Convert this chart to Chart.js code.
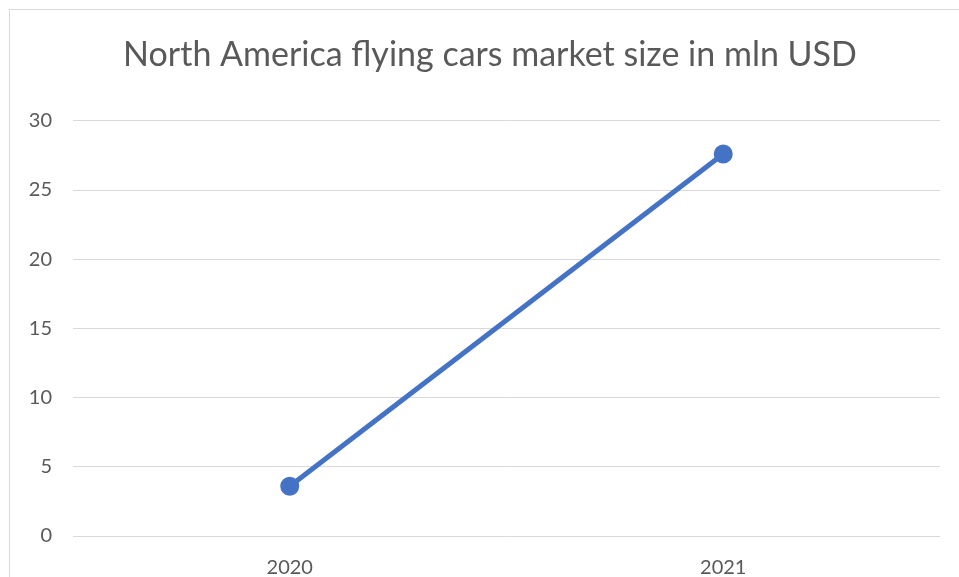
<!DOCTYPE html>
<html>
<head>
<meta charset="utf-8">
<script src="https://cdn.jsdelivr.net/npm/chart.js@4"></script>
<style>
  html, body { margin: 0; background: #fff; overflow: hidden; }
  #frame { position: absolute; left: 9px; top: 9px; width: 960px; height: 580px; border: 1px solid #d9d9d9; }
  #wrap { position: absolute; left: 0; top: 0; width: 960px; height: 567px; }
</style>
</head>
<body>
<div id="frame"><div id="wrap"><canvas id="chart"></canvas></div></div>
<script>
const years = ['2020', '2021'];
const marketSize = [3.6, 27.6];
const chartTitle = 'North America flying cars market size in mln USD';

const fontFamily = 'Lato, "Open Sans", sans-serif';
const ctx = document.getElementById('chart').getContext('2d');
new Chart(ctx, {
    type: 'line',
    data: {
        labels: years,
        datasets: [{
            label: 'Market size',
            data: marketSize,
            borderColor: '#4472C4',
            backgroundColor: '#4472C4',
            borderWidth: 5,
            pointRadius: 7,
            pointHoverRadius: 7,
            tension: 0,
            fill: false
        }]
    },
    options: {
        responsive: true,
        maintainAspectRatio: false,
        animation: false,
        layout: { padding: 0 },
        scales: {
            x: {
                offset: true,
                grid: { display: false, drawTicks: false },
                border: { display: false },
                ticks: { color: '#595959', font: { family: fontFamily, size: 20 }, padding: 20 },
                afterFit: function(scale) { scale.height = 41; }
            },
            y: {
                min: 0,
                max: 30,
                ticks: { stepSize: 5, color: '#595959', font: { family: fontFamily, size: 20 }, padding: 21 },
                grid: { color: '#d9d9d9', lineWidth: 1, drawTicks: false },
                border: { display: false },
                afterFit: function(scale) { scale.width = 63; }
            },
            // empty right-hand gutter so the title is centred like the original
            gutter: {
                position: 'right',
                min: 0,
                max: 30,
                ticks: { display: false },
                grid: { display: false, drawTicks: false },
                border: { display: false },
                afterFit: function(scale) { scale.width = 30; }
            }
        },
        plugins: {
            legend: { display: false },
            tooltip: { enabled: false },
            title: {
                display: true,
                text: chartTitle,
                color: '#595959',
                font: { family: fontFamily, size: 34, weight: 'normal' },
                padding: { top: 25, bottom: 45 }
            }
        }
    }
});
</script>
</body>
</html>
